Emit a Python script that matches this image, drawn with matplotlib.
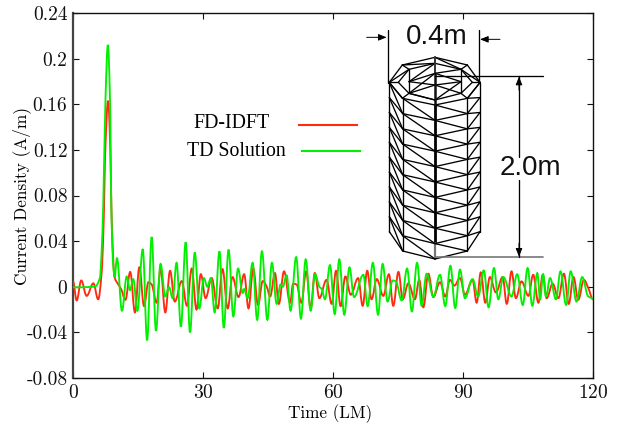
import numpy as np
import matplotlib
matplotlib.use("Agg")
import matplotlib.pyplot as plt
from matplotlib.lines import Line2D
from matplotlib.path import Path
from matplotlib.patches import PathPatch, FancyArrowPatch
from matplotlib.transforms import Affine2D

green_t = [0, 5, 6.2, 6.6, 7, 7.5, 8.05, 8.5, 8.9, 9.3, 9.6, 10.15, 11.3, 12.4, 13.15, 13.9, 14.85, 16.1, 17.1, 18.15, 19.15, 20.2, 21.3, 22.15, 23, 23.9, 24.9, 26, 27, 28.1, 29.15, 30.2, 31, 31.8, 32.7, 33.8, 34.8, 35.9, 37, 38.1, 39.15, 39.5, 40.3, 41.45, 42.5, 43.6, 44.85, 45.9, 47, 47.9, 48.4, 49.3, 50.2, 51.5, 52.6, 53.7, 54.85, 55.85, 56.85, 57.4, 58.15, 59.3, 60.4, 61.45, 62.6, 63.8, 64.85, 67, 68, 69.2, 70.4, 71.45, 72.6, 73.75, 74.5, 75.85, 77.1, 78.2, 79.4, 80.45, 81.6, 83.15, 84.7, 85.9, 87.1, 88.2, 89.3, 90.45, 92.2, 93.5, 94.8, 95.9, 97.15, 98.15, 99.3, 101.2, 102.5, 103.8, 104.9, 106, 107.15, 107.8, 108.5, 109.15, 110.1, 111.45, 112.5, 113.8, 114.85, 116.2, 117.5, 118.9, 120]
green_v = [-0.0005, 0, 0.0076, 0.03, 0.075, 0.165, 0.212, 0.17, 0.06, 0.018, 0.0085, 0.025, -0.021, 0.009, -0.003, 0.0067, -0.021, 0.033, -0.047, 0.0436, -0.0386, 0.02, -0.0085, -0.0003, -0.01, 0.021, -0.035, 0.039, -0.04, 0.03, -0.019, 0.0076, 0, 0.0076, -0.0225, 0.031, -0.036, 0.0325, -0.026, 0.016, -0.0055, -0.002, -0.01, 0.021, -0.029, 0.031, -0.029, 0.021, -0.015, 0.002, 0, 0.01, -0.021, 0.026, -0.028, 0.024, -0.021, 0.011, 0, -0.002, -0.011, 0.019, -0.024, 0.024, -0.0245, 0.017, -0.009, 0.0105, -0.017, 0.021, -0.0245, 0.02, -0.013, 0.0055, 0.0047, -0.012, 0.016, -0.0216, 0.021, -0.0167, 0.0114, -0.0085, 0.0105, -0.017, 0.0184, -0.0187, 0.015, -0.01, 0.0067, -0.0085, 0.0143, -0.018, 0.0164, -0.011, 0.0085, -0.0085, 0.011, -0.016, 0.0164, -0.0167, 0.012, -0.011, 0.011, -0.0085, 0.0076, -0.011, 0.0135, -0.016, 0.0135, -0.013, 0.0085, -0.0085, -0.01]

red_t = [0, 0.85, 1.9, 3.15, 4.7, 5.8, 6.6, 7, 7.5, 8.1, 8.5, 9, 9.6, 10.45, 11.1, 12.1, 13.2, 14.3, 15.3, 16.4, 17.4, 18.15, 19.3, 20.2, 21.3, 22.4, 23.5, 25.1, 26.3, 27.4, 28.5, 29.5, 30.6, 32, 33.4, 34.5, 35.7, 36.8, 38.2, 39.5, 40.5, 41.6, 42.7, 43.8, 44.7, 45.5, 46.6, 47.5, 48.7, 50.1, 50.8, 51.6, 52.7, 53.8, 54.85, 55.8, 56.85, 58.5, 59.7, 60.7, 61.75, 62.85, 64.1, 65.8, 66.85, 67.9, 68.9, 70.1, 71.6, 72.9, 73.9, 75.1, 76.1, 77.4, 78.9, 79.9, 80.85, 82, 83.15, 84.7, 85.9, 87, 88, 89.3, 90.45, 92.2, 93.15, 94.1, 95.15, 96.2, 97.6, 99.15, 100.1, 101.2, 102.2, 103.5, 105.1, 106.2, 107.4, 108.4, 109.3, 110.7, 112, 113.3, 114.4, 115.5, 116.6, 117.9, 118.9, 120]
red_v = [0.0047, -0.012, 0.0055, -0.008, 0.003, -0.011, 0.012, 0.047, 0.125, 0.163, 0.135, 0.05, 0.0085, 0.002, -0.002, -0.0115, 0.013, -0.0225, 0.017, -0.017, 0.004, 0.002, -0.014, 0.016, -0.0225, 0.014, -0.013, 0.005, -0.0167, 0.016, -0.02, 0.011, -0.01, 0.0076, -0.019, 0.0155, -0.019, 0.0085, -0.009, 0.011, -0.019, 0.016, -0.016, 0.005, 0, -0.0085, 0.012, -0.015, 0.0135, -0.014, 0.0026, 0.002, -0.014, 0.0135, -0.019, 0.012, -0.01, 0.006, -0.015, 0.014, -0.017, 0.009, -0.007, 0.0076, -0.0167, 0.014, -0.011, 0.0067, -0.008, 0.011, -0.0167, 0.013, -0.011, 0.003, -0.011, 0.006, -0.018, 0.0114, -0.009, 0.004, -0.0085, 0.006, 0.001, 0.0076, -0.007, 0.006, -0.014, 0.0126, -0.014, 0.0085, -0.005, 0.0085, -0.015, 0.0135, -0.01, 0.0047, -0.008, 0.0105, -0.014, 0.0105, -0.01, 0.0026, -0.01, 0.0114, -0.015, 0.0085, -0.0114, 0.006, -0.001, -0.011]

x_ticks = [0, 30, 60, 90, 120]
y_ticks = [-0.08, -0.04, 0, 0.04, 0.08, 0.12, 0.16, 0.2, 0.24]
y_tick_labels = ["-0.08", "-0.04", "0", "0.04", "0.08", "0.12", "0.16", "0.2", "0.24"]
series_names = ["FD-IDFT", "TD Solution"]
RED, GREEN = "#ff2a10", "#00f000"

plt.rcParams["font.family"] = ["cmr10", "DejaVu Serif"]
plt.rcParams["axes.unicode_minus"] = False
plt.rcParams["axes.formatter.use_mathtext"] = True

W, H = 618, 428
fig = plt.figure(figsize=(W / 100, H / 100), dpi=100)
ax = fig.add_axes([73 / W, 1 - 378 / H, 520 / W, 365 / H])


def smooth_patch(t, v, color):
    """Draw the read points as a monotone curve, flat at each extremum."""
    t, v = np.asarray(t), np.asarray(v)
    h = np.diff(t)
    s = np.diff(v) / h
    m = np.zeros_like(t)
    for i in range(1, len(t) - 1):
        if s[i - 1] * s[i] > 0:
            m[i] = 2 * s[i - 1] * s[i] / (s[i - 1] + s[i])
    verts, codes = [(t[0], v[0])], [Path.MOVETO]
    for i in range(len(t) - 1):
        d = h[i] * 0.38
        verts += [(t[i] + d, v[i] + m[i] * d), (t[i + 1] - d, v[i + 1] - m[i + 1] * d), (t[i + 1], v[i + 1])]
        codes += [Path.CURVE4] * 3
    ax.add_patch(PathPatch(Path(verts, codes), fill=False, edgecolor=color, lw=1.35, zorder=3))


smooth_patch(red_t, red_v, RED)
smooth_patch(green_t, green_v, GREEN)

ax.set_xlim(0, 120)
ax.set_ylim(-0.08, 0.24)
ax.set_xticks(x_ticks)
ax.set_yticks(y_ticks)
ax.set_yticklabels(y_tick_labels)
ax.tick_params(direction="in", length=4.5, width=0.8, top=True, right=True, labelsize=14, pad=4, colors="#111111")
ax.set_xlabel("Time (LM)", fontsize=12.3)
ax.set_ylabel("Current Density (A/m)", fontsize=12.4)
ax.xaxis.set_label_coords((330 - 73) / 520, -(414 - 378) / 365, transform=ax.transAxes)
ax.yaxis.set_label_coords((22 - 73) / 520, (378 - 196) / 365, transform=ax.transAxes)
ax.xaxis.label.set_va("center")
ax.yaxis.label.set_va("center")
for s in ax.spines.values():
    s.set_linewidth(1.0)
    s.set_color("#111111")
ax.spines["left"].set_linewidth(1.6)
ax.spines["left"].set_color("#444444")

px = Affine2D().scale(1, -1).translate(0, H)
fig.text(231 / W, 1 - 123 / H, series_names[0], ha="center", va="center", fontsize=14.3, family=["Liberation Serif"])
fig.text(236.5 / W, 1 - 152 / H, series_names[1], ha="center", va="center", fontsize=14.3, family=["Liberation Serif"])
fig.add_artist(Line2D([299, 357], [125, 125], transform=px, color=RED, lw=1.5))
fig.add_artist(Line2D([302, 360], [151, 151], transform=px, color=GREEN, lw=1.5))

# Mesh inset, positioned in zoomed picture units
z = Affine2D().scale(1 / 3, -1 / 3).translate(360, H - 10)


def seg(xs, ys, lw=0.95, color="black"):
    fig.add_artist(Line2D(xs, ys, transform=z, color=color, lw=lw, zorder=5, solid_capstyle="round"))


vx = [88, 128, 225, 322, 360]
vtop = [218, 265, 285, 265, 218]
vbot = [665, 723, 747, 723, 665]
n = 10
ring = lambda j, k: vtop[j] + (vbot[j] - vtop[j]) * k / n
for j in [0, 1, 3, 4]:
    seg([vx[j], vx[j]], [vtop[j], vbot[j]])
seg([225, 225], [285, 700], lw=2.0)
seg([225, 225], [700, 747], lw=1.6, color="#777777")
for k in range(n + 1):
    seg(vx, [ring(j, k) for j in range(5)])
for k in range(n):
    seg([vx[0], vx[1]], [ring(0, k), ring(1, k + 1)])
    seg([vx[1], vx[2]], [ring(1, k), ring(2, k + 1)])
    seg([vx[2], vx[3]], [ring(2, k), ring(3, k + 1)])
    seg([vx[3], vx[4]], [ring(3, k), ring(4, k + 1)])

# Cap of the cylinder, given in the crop's own units and shifted to the inset's
cap = [
    ((13, 97), (52, 45)), ((52, 45), (150, 22)), ((150, 22), (247, 45)), ((247, 45), (285, 97)),
    ((285, 97), (247, 145)), ((13, 97), (52, 145)),
    ((72, 58), (150, 40)), ((150, 40), (228, 58)), ((228, 58), (262, 97)), ((262, 97), (228, 130)),
    ((228, 130), (150, 150)), ((150, 150), (72, 130)), ((72, 130), (40, 97)), ((40, 97), (72, 58)),
    ((52, 45), (72, 58)), ((52, 45), (150, 40)), ((150, 22), (228, 58)), ((247, 45), (228, 58)), ((285, 97), (228, 58)),
    ((285, 97), (262, 97)), ((13, 97), (72, 58)), ((13, 97), (40, 97)), ((52, 145), (72, 130)), ((247, 145), (228, 130)),
    ((72, 58), (72, 130)), ((228, 58), (228, 130)),
    ((72, 95), (150, 70)), ((72, 130), (150, 105)), ((72, 95), (150, 40)), ((72, 130), (150, 70)),
    ((72, 95), (150, 105)), ((150, 70), (228, 58)), ((150, 70), (228, 95)), ((150, 105), (228, 95)),
    ((150, 105), (228, 130)), ((150, 150), (228, 95)), ((72, 130), (150, 150)),
]
for a, b in cap:
    seg([a[0] + 75, b[0] + 75], [a[1] + 120, b[1] + 120])
seg([225, 225], [142, 190], lw=1.4, color="#333333")
seg([225, 225], [190, 285], lw=1.8, color="#111111")

seg([85, 85], [60, 218])
seg([358, 358], [60, 218])
seg([225, 550], [198, 198])
seg([225, 550], [742, 742], lw=1.2, color="#777777")
seg([477, 477], [198, 440])
seg([477, 477], [510, 742])
for tail, tip in [((20, 82), (80, 82)), ((420, 88), (360, 88)), ((477, 240), (477, 200)), ((477, 700), (477, 740))]:
    fig.add_artist(FancyArrowPatch(tail, tip, transform=z, arrowstyle="-|>,head_length=0.55,head_width=0.22",
                                   mutation_scale=9, lw=0.7, color="black", shrinkA=0, shrinkB=0, zorder=5))
for s, cx, cy in [("0.4m", 230, 82), ("2.0m", 512, 475)]:
    fig.text((360 + cx / 3) / W, 1 - (10 + cy / 3) / H, s, ha="center", va="center", fontsize=20,
             family=["Liberation Sans"], color="#111111", zorder=6)

fig.savefig("out.png", dpi=100)
